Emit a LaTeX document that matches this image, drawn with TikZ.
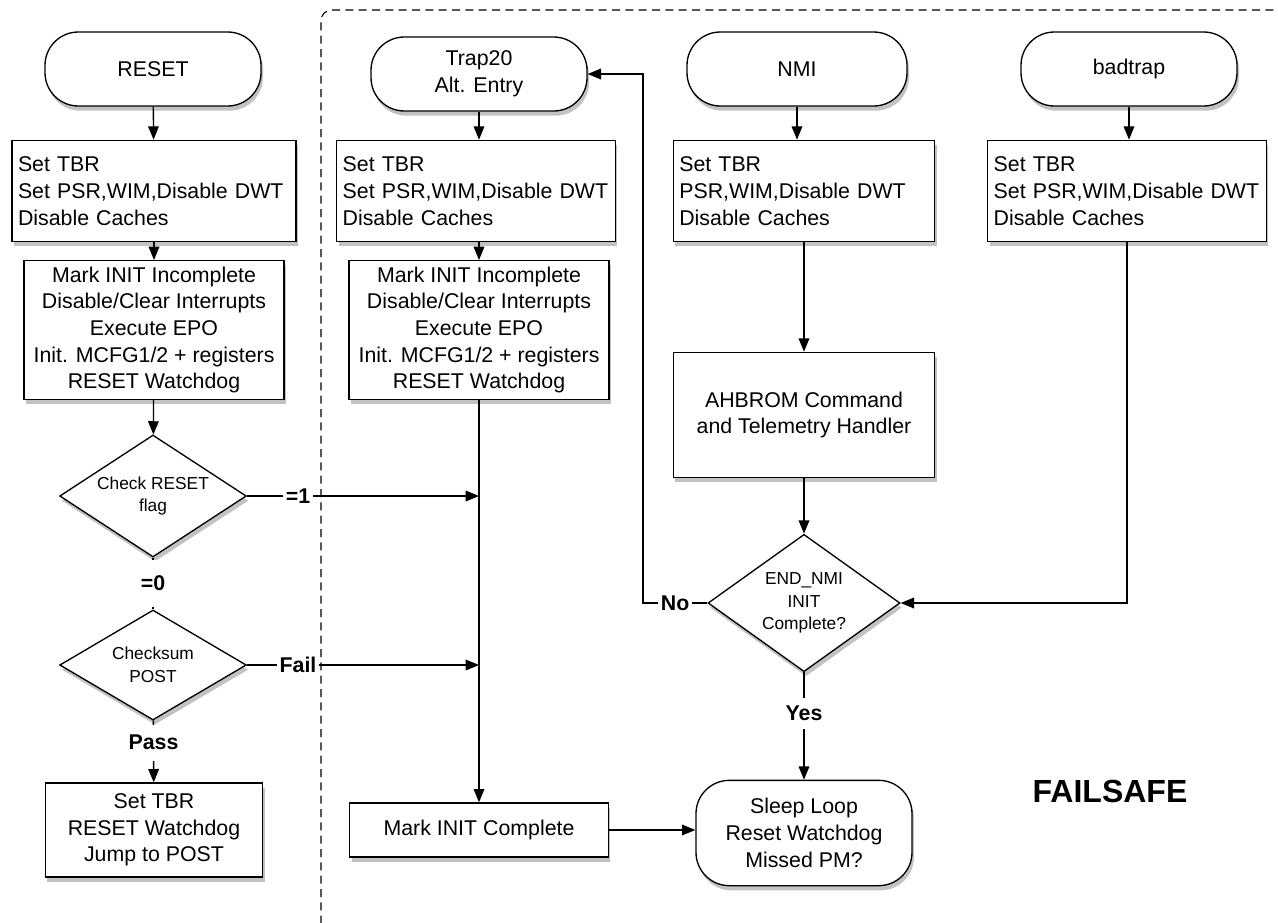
\documentclass[tikz,border=0pt]{standalone}
\usepackage{fontspec}
\setmainfont{Liberation Sans}
\usetikzlibrary{arrows.meta, positioning, shapes.geometric, shadows}

\tikzset{
  flow/.style={draw, line width=1pt, fill=white,
    drop shadow={shadow xshift=1.5pt, shadow yshift=-3.5pt, opacity=0.4, fill=black!60}},
  term/.style={flow, rounded corners=25pt, minimum width=162pt, minimum height=55.5pt, align=center},
  box/.style={flow, rectangle, align=center, inner sep=4.5pt},
  lbox/.style={flow, rectangle, align=left, inner sep=4.5pt},
  decide/.style={flow, diamond, aspect=1.5, inner sep=0pt, align=center,
    font=\fontsize{13}{17}\selectfont},
  lbl/.style={fill=white, inner sep=2pt, font=\fontsize{16}{19}\bfseries\selectfont},
  arr/.style={-{Triangle[length=10pt,width=8pt]}, line width=1pt},
  line/.style={line width=1pt},
}

\begin{document}
\begin{tikzpicture}[x=0.75pt, y=0.75pt, yscale=-1, font=\fontsize{16}{20}\selectfont]
    \useasboundingbox (0,0) rectangle (1278,922);

    % failsafe frame
    \draw[line width=0.8pt, dash pattern=on 6pt off 4pt, rounded corners=8pt]
        (1300,10) -- (321,10) -- (321,940);

    % RESET column
    \node[term] (reset) at (153,69) {RESET};
    \node[lbox, text width=204pt, minimum height=76pt] (rinit) at (154,191)
        {Set TBR\\Set PSR,WIM,Disable DWT\\Disable Caches};
    \node[box, minimum width=195pt, minimum height=104pt] (rsetup) at (154,330)
        {Mark INIT Incomplete\\Disable/Clear Interrupts\\Execute EPO\\Init. MCFG1/2 + registers\\RESET Watchdog};
    \node[decide, minimum width=140pt, minimum height=91.5pt] (chkflag) at (153,496) {Check RESET\\flag};
    \node[decide, minimum width=140pt, minimum height=82.5pt] (chksum) at (153,665) {Checksum\\POST};
    \node[box, minimum width=163pt, minimum height=70.5pt] (post) at (154,830)
        {Set TBR\\RESET Watchdog\\Jump to POST};

    % Trap20 column
    \node[term] (trap) at (479,74) {Trap20\\Alt. Entry};
    \node[lbox, text width=200pt, minimum height=76pt] (tinit) at (476,191)
        {Set TBR\\Set PSR,WIM,Disable DWT\\Disable Caches};
    \node[box, minimum width=195pt, minimum height=104pt] (tsetup) at (479,330)
        {Mark INIT Incomplete\\Disable/Clear Interrupts\\Execute EPO\\Init. MCFG1/2 + registers\\RESET Watchdog};
    \node[box, minimum width=194pt, minimum height=40.5pt] (markdone) at (479,830) {Mark INIT Complete};

    % NMI column
    \node[term, minimum width=165pt] (nmi) at (797,69) {NMI};
    \node[lbox, text width=187pt, minimum height=76pt] (ninit) at (804,191)
        {Set TBR\\PSR,WIM,Disable DWT\\Disable Caches};
    \node[box, minimum width=196pt, minimum height=94pt] (ahbrom) at (804,415)
        {AHBROM Command\\and Telemetry Handler};
    \node[decide, minimum width=144pt, minimum height=103pt] (endnmi) at (804,603)
        {END\_NMI\\INIT\\Complete?};
    \node[term, minimum height=79pt] (sleep) at (804,833) {Sleep Loop\\Reset Watchdog\\Missed PM?};
    \coordinate (noturn) at (643,603);

    % badtrap column
    \node[term] (bad) at (1129,69) {badtrap};
    \node[lbox, text width=200pt, minimum height=76pt] (binit) at (1127,191)
        {Set TBR\\Set PSR,WIM,Disable DWT\\Disable Caches};

    \node[font=\fontsize{24}{28}\bfseries\selectfont] (failsafe) at (1110,791) {FAILSAFE};

    % connectors
    \draw[arr] (reset) -- (rinit);
    \draw[arr] (rinit) -- (rsetup);
    \draw[arr] (rsetup) -- (chkflag);
    \draw[line] (chkflag) -- node[lbl, inner ysep=12pt]{=0} (chksum);
    \draw[arr] (chksum) -- node[lbl, inner ysep=8pt, pos=0.36]{Pass} (post);
    \draw[arr] (chkflag.east) -- node[lbl, pos=0.22]{=1} (chkflag.east -| tsetup.south);
    \draw[arr] (chksum.east) -- node[lbl, pos=0.22]{Fail} (chksum.east -| tsetup.south);

    \draw[arr] (trap) -- (trap |- tinit.north);
    \draw[arr] (tinit.south -| tsetup.north) -- (tsetup);
    \draw[arr] (tsetup) -- (markdone);
    \draw[arr] (markdone.east) -- (markdone.east -| sleep.west);

    \draw[arr] (nmi) -- (nmi |- ninit.north);
    \draw[arr] (ninit) -- (ahbrom);
    \draw[arr] (ahbrom) -- (endnmi);
    \draw[arr] (endnmi) -- node[lbl, inner ysep=6pt, pos=0.38]{Yes} (sleep);
    \draw[arr] (endnmi.west) -- node[lbl]{No} (noturn) |- (trap.east);

    \draw[arr] (bad) -- (bad |- binit.north);
    \draw[arr] (binit.south) |- (endnmi.east);
\end{tikzpicture}
\end{document}
